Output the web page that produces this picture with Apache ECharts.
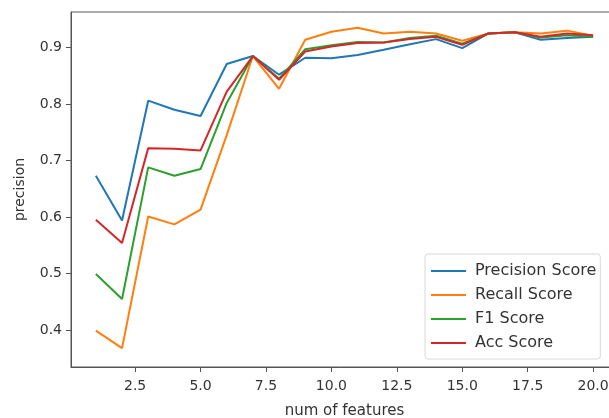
<!DOCTYPE html>
<html>
<head>
<meta charset="utf-8">
<script src="https://cdn.jsdelivr.net/npm/echarts@6/dist/echarts.min.js"></script>
<style>
  html, body { margin: 0; padding: 0; background: #fff; }
  #chart { width: 609px; height: 418px; }
</style>
</head>
<body>
<div id="chart"></div>
<script>
// number of features on x
const features = [1, 2, 3, 4, 5, 6, 7, 8, 9, 10, 11, 12, 13, 14, 15, 16, 17, 18, 19, 20];

const precisionScore = [0.673, 0.594, 0.806, 0.790, 0.779, 0.871, 0.885, 0.852, 0.882, 0.881, 0.887, 0.896, 0.906, 0.915, 0.899, 0.925, 0.927, 0.914, 0.917, 0.919];
const recallScore    = [0.399, 0.368, 0.601, 0.587, 0.613, 0.745, 0.885, 0.827, 0.914, 0.928, 0.935, 0.925, 0.928, 0.925, 0.912, 0.925, 0.927, 0.925, 0.930, 0.921];
const f1Score        = [0.499, 0.455, 0.688, 0.673, 0.685, 0.802, 0.885, 0.845, 0.897, 0.904, 0.910, 0.909, 0.917, 0.921, 0.907, 0.925, 0.927, 0.918, 0.922, 0.919];
const accScore       = [0.595, 0.554, 0.722, 0.721, 0.718, 0.822, 0.885, 0.843, 0.893, 0.902, 0.908, 0.909, 0.915, 0.919, 0.905, 0.925, 0.927, 0.919, 0.925, 0.922];

const xTicks = [2.5, 5.0, 7.5, 10.0, 12.5, 15.0, 17.5, 20.0];
const yTicks = [0.4, 0.5, 0.6, 0.7, 0.8, 0.9];

const seriesNames = ['Precision Score', 'Recall Score', 'F1 Score', 'Acc Score'];
const seriesColors = ['#1f77b4', '#ff7f0e', '#2ca02c', '#d62728'];
const seriesData = [precisionScore, recallScore, f1Score, accScore];

const chart = echarts.init(document.getElementById('chart'));

const font = 'DejaVu Sans';

const option = {
  animation: false,
  textStyle: { fontFamily: font },
  grid: {
    left: 71,
    top: 12,
    width: 547,
    bottom: 51,
    outerBoundsMode: 'none',
    show: true,
    borderColor: '#555',
    borderWidth: 1,
    backgroundColor: '#fff'
  },
  legend: {
    orient: 'vertical',
    left: 425,
    top: 254,
    data: seriesNames,
    icon: 'rect',
    itemWidth: 35,
    itemHeight: 2,
    itemGap: 8,
    padding: [9, 4, 8, 6],
    backgroundColor: '#fff',
    borderColor: '#d8d8d8',
    borderWidth: 1,
    borderRadius: 3,
    textStyle: { fontFamily: font, fontSize: 16, color: '#333', padding: [0, 0, 0, 4] }
  },
  xAxis: {
    type: 'value',
    min: 0.05,
    max: 20.95,
    name: 'num of features',
    nameLocation: 'middle',
    nameGap: 37,
    nameTextStyle: { fontFamily: font, fontSize: 15, color: '#333' },
    axisLine: { show: true, onZero: false, lineStyle: { color: '#555', width: 1 } },
    axisTick: { show: true, length: 5, lineStyle: { color: '#555' }, customValues: xTicks },
    axisLabel: {
      color: '#333', fontSize: 14, margin: 12,
      customValues: xTicks,
      formatter: v => v.toFixed(1)
    },
    splitLine: { show: false }
  },
  yAxis: {
    type: 'value',
    min: 0.3345,
    max: 0.963,
    name: 'precision',
    nameLocation: 'middle',
    nameGap: 44,
    nameTextStyle: { fontFamily: font, fontSize: 14, color: '#333' },
    axisLine: { show: true, onZero: false, lineStyle: { color: '#555', width: 1 } },
    axisTick: { show: true, length: 5, lineStyle: { color: '#555' }, customValues: yTicks },
    axisLabel: {
      color: '#333', fontSize: 14, margin: 9,
      customValues: yTicks,
      formatter: v => v.toFixed(1)
    },
    splitLine: { show: false }
  },
  series: seriesNames.map((name, i) => ({
    name: name,
    type: 'line',
    symbol: 'none',
    color: seriesColors[i],
    lineStyle: { width: 2, color: seriesColors[i] },
    data: features.map((f, j) => [f, seriesData[i][j]])
  }))
};

chart.setOption(option);
</script>
</body>
</html>
